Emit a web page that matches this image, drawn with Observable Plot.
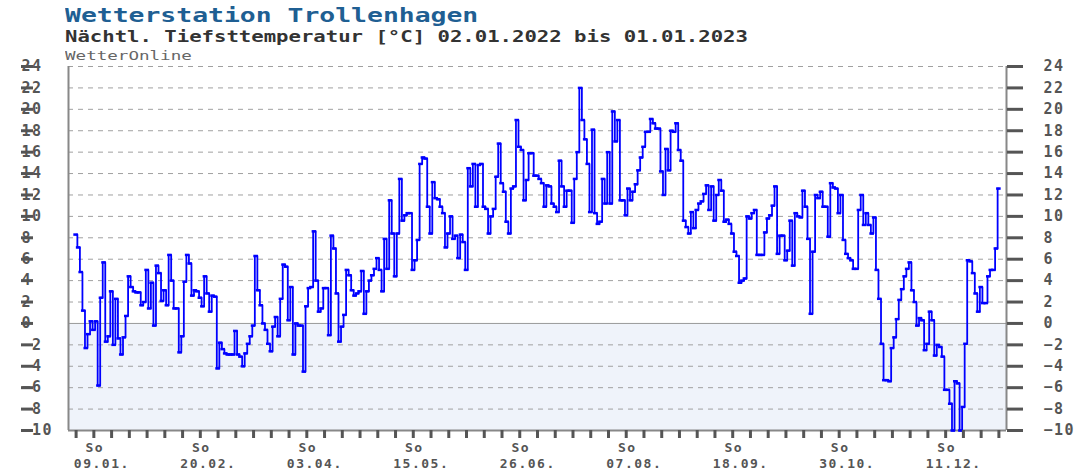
<!DOCTYPE html>
<html><head><meta charset="utf-8">
<script src="https://cdn.jsdelivr.net/npm/d3@7"></script>
<script src="https://cdn.jsdelivr.net/npm/@observablehq/plot@0.6"></script>
<style>
body{margin:0;background:#fff;}
#head{position:relative;width:1075px;height:60px;}
.t{position:absolute;left:65px;white-space:nowrap;transform-origin:0 0;font-family:"DejaVu Sans Mono",monospace;line-height:1;}
#title{top:5px;font-size:20px;font-weight:bold;color:#1f5f93;transform:scaleX(1.32);}
#sub{top:30px;font-size:15px;font-weight:bold;color:#333;transform:scaleX(1.375);}
#src{top:49px;font-size:13px;color:#666;transform:scaleX(1.35);}
</style></head>
<body>
<div id="head">
<div class="t" id="title">Wetterstation Trollenhagen</div>
<div class="t" id="sub">Nächtl. Tiefsttemperatur [°C] 02.01.2022 bis 01.01.2023</div>
<div class="t" id="src">WetterOnline</div>
</div>
<div id="chart"></div>
<script>
// Nightly minimum temperature, one value per day from 02.01.2022 to 01.01.2023
const tmin = [
  8.3, 7.1, 4.8, 1.2, -2.3, -1.0, 0.2, -0.6, 0.2, -5.8,
  2.4, 5.7, -1.7, -1.2, 3.0, -2.0, 2.3, -1.4, -2.9, -1.3,
  0.7, 4.4, 3.4, 3.0, 2.9, 2.9, 1.7, 2.0, 5.0, 1.4,
  3.8, -0.2, 5.4, 4.7, 2.1, 3.1, 1.7, 6.4, 4.0, 1.4,
  1.4, -2.7, -1.2, 3.9, 6.4, 5.6, 2.6, 3.1, 3.0, 2.4,
  1.6, 4.4, 2.8, 1.1, 2.6, 2.5, -4.2, -1.8, -2.4, -2.8,
  -2.9, -2.9, -2.9, -0.7, -2.9, -3.1, -4.0, -2.8, -1.9, -1.2,
  -0.2, 6.3, 3.1, 1.7, 0.0, -0.6, -1.9, -2.6, -0.3, 0.6,
  -1.2, 2.3, 5.5, 5.3, 0.3, 3.4, -2.9, 0.0, -0.2, -0.2,
  -4.5, 1.6, 3.3, 3.4, 8.6, 4.0, 1.1, 1.4, 3.3, 3.3,
  -1.1, 8.2, 7.0, 2.8, -1.7, -0.3, 0.8, 5.0, 4.5, 3.1,
  2.6, 2.8, 3.0, 4.9, 0.9, 3.0, 4.0, 4.5, 5.1, 6.1,
  5.0, 3.0, 7.9, 5.1, 11.5, 8.4, 4.4, 8.4, 13.5, 9.6,
  10.1, 10.3, 10.3, 5.0, 5.9, 7.8, 14.9, 15.5, 15.4, 10.9,
  8.4, 13.2, 11.7, 11.6, 10.9, 10.3, 7.1, 8.4, 10.0, 7.9,
  8.2, 6.1, 8.3, 7.6, 5.0, 14.5, 12.8, 14.9, 10.9, 14.8,
  14.9, 10.9, 10.7, 8.4, 10.0, 10.7, 13.7, 16.8, 13.1, 12.3,
  9.5, 8.4, 12.6, 12.8, 19.0, 16.5, 16.2, 11.5, 13.4, 15.9,
  15.9, 13.8, 13.8, 13.5, 13.1, 10.9, 12.9, 12.8, 11.2, 10.9,
  10.4, 15.2, 12.8, 10.9, 12.4, 12.4, 9.4, 13.5, 16.0, 22.0,
  19.0, 17.2, 14.9, 10.4, 18.1, 10.3, 9.3, 9.5, 13.5, 11.2,
  16.0, 11.2, 19.8, 17.0, 19.0, 11.5, 11.5, 10.1, 12.6, 11.5,
  12.3, 13.0, 14.3, 15.5, 16.5, 17.9, 17.9, 19.1, 18.7, 18.2,
  18.2, 14.2, 12.0, 16.3, 14.3, 18.0, 17.9, 18.7, 16.2, 15.2,
  9.6, 9.0, 8.4, 10.4, 8.9, 10.6, 11.2, 11.4, 12.1, 12.9,
  10.6, 12.8, 9.6, 12.0, 13.4, 12.4, 9.5, 9.7, 9.3, 8.4,
  6.7, 6.3, 3.8, 4.0, 4.2, 10.0, 9.8, 10.3, 10.6, 6.4,
  6.4, 6.4, 8.5, 9.8, 10.1, 11.0, 12.8, 6.5, 8.2, 8.2,
  5.9, 6.8, 9.6, 5.4, 10.3, 10.0, 9.9, 12.4, 10.9, 7.9,
  0.9, 6.7, 12.0, 11.7, 12.3, 10.9, 10.9, 8.1, 13.1, 12.7,
  12.6, 10.3, 12.0, 7.8, 6.5, 6.1, 5.9, 5.1, 5.1, 10.6,
  12.0, 9.2, 10.3, 9.2, 8.4, 9.9, 5.0, 2.3, -1.9, -5.3,
  -5.3, -5.4, -2.3, -1.3, 0.4, 2.2, 3.2, 4.4, 5.1, 5.7,
  3.1, 2.0, -0.2, 0.5, 0.3, -2.5, -1.9, 1.1, 0.3, -3.0,
  -2.0, -2.2, -3.1, -6.2, -6.2, -7.5, -10.0, -5.4, -5.6, -10.0,
  -7.8, -1.9, 5.9, 5.8, 4.7, 2.8, 1.1, 3.4, 1.9, 1.9,
  4.4, 5.0, 5.0, 7.0, 12.6
];
const startDate = [2022, 0, 2];
const tickLabels = ["09.01.", "20.02.", "03.04.", "15.05.", "26.06.", "07.08.", "18.09.", "30.10.", "11.12."];
const weekdayLabel = "So";
const yTicks = [-10, -8, -6, -4, -2, 0, 2, 4, 6, 8, 10, 12, 14, 16, 18, 20, 22, 24];

const day = i => new Date(Date.UTC(startDate[0], startDate[1], startDate[2] + i));
const data = tmin.map((v, i) => ({date: day(i), v}));
const xDomain = [day(-3), day(367)];
const weekly = d3.range(0, tmin.length, 7).map(day);
const labelDates = tickLabels.map(s => { const [dd, mm] = s.split("."); return new Date(Date.UTC(2022, +mm - 1, +dd)); });
const gridVals = yTicks.filter(v => v !== 0 && v !== -10);
const shift = (d, k) => new Date(+d + k * 864e5);

const axisCol = "#555";
const chart = Plot.plot({
  width: 1075, height: 416,
  marginTop: 6, marginBottom: 46, marginLeft: 68, marginRight: 69,
  x: {type: "utc", domain: xDomain, label: null},
  y: {domain: [-10, 24], label: null},
  style: "font-family:'DejaVu Sans Mono',monospace;font-weight:bold;font-size:15px;letter-spacing:1.5px;overflow:visible;background:transparent;",
  marks: [
    Plot.rect([0], {x1: () => xDomain[0], x2: () => xDomain[1], y1: () => -10, y2: () => 0, fill: "#eff3fa"}),
    Plot.ruleY(gridVals, {stroke: "#a0a0a0", strokeDasharray: "5,5"}),
    Plot.ruleY([0], {stroke: "#999"}),
    Plot.ruleX(xDomain, {stroke: "#888", strokeWidth: 2}),
    Plot.ruleY([-10], {stroke: "#888", strokeWidth: 2}),
    Plot.line(data, {x: "date", y: "v", stroke: "#0000ff", strokeWidth: 1.8, curve: "step"}),
    Plot.ruleY(data, {y: "v", x1: d => shift(d.date, -0.9), x2: d => shift(d.date, 0.9), stroke: "#0000ff", strokeWidth: 2.5}),
    Plot.axisY(yTicks, {anchor: "left", label: null, tickSize: 12, tickPadding: 0, textAnchor: "start", dx: -35, fontSize: 15, color: axisCol, strokeWidth: 3}),
    Plot.axisY(yTicks, {anchor: "right", label: null, tickSize: 16, tickPadding: 21, fontSize: 15, color: axisCol, strokeWidth: 3}),
    Plot.axisX(weekly, {anchor: "bottom", label: null, tickSize: 8, tickFormat: () => "", color: axisCol, strokeWidth: 3}),
    Plot.text(labelDates, {x: d => d, text: () => weekdayLabel, frameAnchor: "bottom", dy: 21, dx: 1, fontSize: 13, letterSpacing: 3, fill: axisCol, style: "letter-spacing:3px"}),
    Plot.text(labelDates, {x: d => d, text: (d, i) => tickLabels[i], frameAnchor: "bottom", dy: 37, dx: 8, fontSize: 13, fill: axisCol, style: "letter-spacing:3px"})
  ]
});
document.getElementById("chart").appendChild(chart);
</script>
</body></html>
